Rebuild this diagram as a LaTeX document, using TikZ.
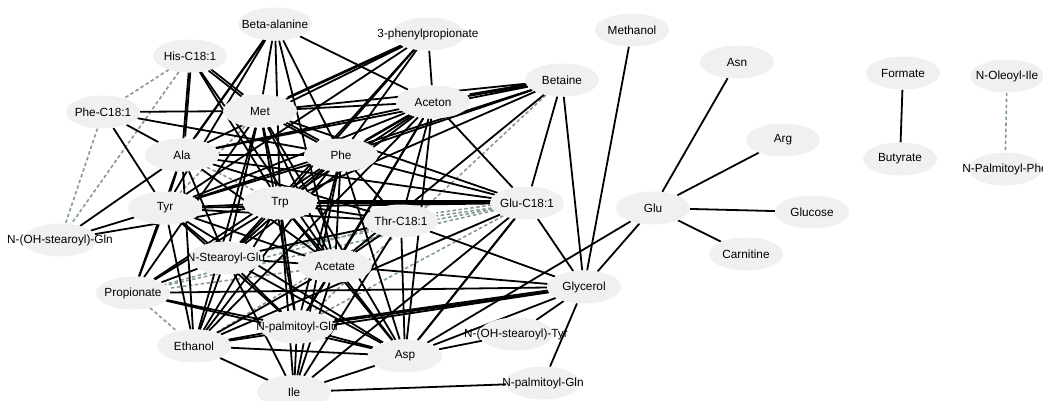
\documentclass[tikz,border=0pt]{standalone}
\usepackage{fontspec}
\setmainfont{Liberation Sans}
\usetikzlibrary{shapes.geometric}
\pgfdeclarelayer{back}
\pgfdeclarelayer{edges}
\pgfsetlayers{back,edges,main}
\definecolor{nodefill}{RGB}{240,241,239}
\definecolor{dashcol}{RGB}{132,154,150}
\tikzset{
  nd/.style={ellipse, fill=nodefill, minimum width=74pt, minimum height=33pt, inner sep=0pt},
  lab/.style={font=\fontsize{11.8}{13}\selectfont},
  e/.style={line width=1.8pt, black},
  ds/.style={line width=1.6pt, dashcol, dash pattern=on 3.5pt off 2.5pt},
}
\newcommand\twoline[2]{\draw[e] (#1) -- (#2); \draw[e, transform canvas={shift={(1.8pt,1.8pt)}}] (#1) -- (#2);}
\newcommand\nodeat[3]{\node[nd, label={[lab]center:#3}] (#1) at (#2) {};}
\begin{document}
\begin{tikzpicture}[x=1pt, y=-1pt]
\useasboundingbox (0,0) rectangle (1043,400);
\begin{pgfonlayer}{back}
\fill[white] (0,0) rectangle (1043,400);
\end{pgfonlayer}
\nodeat{ba}{275,24}{Beta-alanine}
\nodeat{pp}{428,34}{3-phenylpropionate}
\nodeat{his}{190,56}{His-C18:1}
\nodeat{phec}{103,112}{Phe-C18:1}
\nodeat{met}{260,111}{Met}
\nodeat{acn}{433,102}{Aceton}
\nodeat{bet}{562,80}{Betaine}
\nodeat{ala}{182,155}{Ala}
\nodeat{phe}{341,155}{Phe}
\nodeat{tyr}{165,208}{Tyr}
\nodeat{trp}{280,203}{Trp}
\nodeat{gluc}{527,203}{Glu-C18:1}
\nodeat{thr}{401,221}{Thr-C18:1}
\nodeat{ohgln}{60,240}{N-(OH-stearoyl)-Gln}
\nodeat{sglu}{226,258}{N-Stearoyl-Glu}
\nodeat{ace}{335,266}{Acetate}
\nodeat{pro}{133,293}{Propionate}
\nodeat{gly}{584,287}{Glycerol}
\nodeat{pglu}{297,327}{N-palmitoyl-Glu}
\nodeat{ohtyr}{516,334}{N-(OH-stearoyl)-Tyr}
\nodeat{eth}{194,346}{Ethanol}
\nodeat{asp}{405,356}{Asp}
\nodeat{ile}{294,392}{Ile}
\nodeat{pgln}{543,383}{N-palmitoyl-Gln}
\nodeat{meth}{632,30}{Methanol}
\nodeat{asn}{737,62}{Asn}
\nodeat{arg}{783,140}{Arg}
\nodeat{glu}{653,208}{Glu}
\nodeat{glc}{812,212}{Glucose}
\nodeat{car}{746,254}{Carnitine}
\nodeat{form}{903,73}{Formate}
\nodeat{but}{900,159}{Butyrate}
\nodeat{ole}{1007,76}{N-Oleoyl-Ile}
\nodeat{pphe}{1005,169}{N-Palmitoyl-Phe}
\begin{pgfonlayer}{edges}
% dashed
\foreach \a/\b in {his/phec, his/ohgln, phec/ohgln, met/phe, met/tyr, gluc/sglu, gluc/pro, gluc/eth, gluc/pglu, thr/sglu, thr/pro, thr/eth, bet/pglu, pro/eth, ace/pro, ole/pphe, ala/trp}
  \draw[ds] (\a) -- (\b);
\draw[ds] (gluc) -- (thr);
\draw[ds, transform canvas={shift={(0pt,3pt)}}] (gluc) -- (thr);
% solid
\foreach \a/\b in {
  ba/met, ba/phe, ba/acn, ba/trp, ba/tyr, ba/ace,
  his/trp, his/ace,
  phec/met, phec/ala, phec/tyr, phec/phe,
  pp/ala, pp/tyr, pp/phe, pp/trp, pp/acn, pp/sglu,
  acn/met, acn/ala, acn/tyr, acn/trp, acn/gluc, acn/thr, acn/ace, acn/sglu, acn/asp, acn/eth, acn/pglu,
  bet/phe, bet/trp, bet/tyr, bet/gluc, bet/gly, bet/met, bet/ace, bet/ala,
  met/trp, met/ace, met/sglu, met/eth, met/gluc, met/pro, met/asp, met/pglu,
  ala/phe, ala/tyr, ala/sglu, ala/eth, ala/pro, ala/ace, ala/gluc, ala/thr,
  phe/tyr, phe/trp, phe/ace, phe/sglu, phe/eth, phe/gluc, phe/thr, phe/pglu, phe/asp, phe/pro, phe/ile,
  tyr/trp, tyr/sglu, tyr/eth, tyr/pro, tyr/thr, tyr/ace, tyr/gluc, tyr/asp, tyr/pglu,
  trp/thr, trp/sglu, trp/ace, trp/eth, trp/pro, trp/pglu, trp/asp, trp/ile,
  sglu/ace, sglu/eth, sglu/pro, sglu/pglu, sglu/asp, sglu/ile, sglu/thr,
  ace/eth, ace/pglu, ace/asp, ace/ile, ace/gly, ace/thr,
  pro/gly, pro/pglu, pro/asp,
  eth/asp, eth/ile, eth/pglu, eth/gly, eth/gluc,
  pglu/asp, pglu/ile,
  asp/gly, asp/ohtyr, asp/thr, asp/glu, asp/ile,
  ile/pgln, ile/gluc, ile/thr,
  gly/gluc, gly/thr, gly/ohtyr, gly/pgln, gly/meth, gly/glu,
  glu/asn, glu/arg, glu/glc, glu/car,
  form/but,
  ohgln/tyr, ohgln/ala, ohgln/trp}
  \draw[e] (\a) -- (\b);
\twoline{ba}{ala}
\twoline{his}{met}
\twoline{his}{ala}
\twoline{pp}{met}
\twoline{acn}{phe}
\twoline{bet}{acn}
\twoline{met}{phe}
\twoline{trp}{gluc}
\twoline{pglu}{gly}
\twoline{asp}{gluc}
\end{pgfonlayer}
\end{tikzpicture}
\end{document}
